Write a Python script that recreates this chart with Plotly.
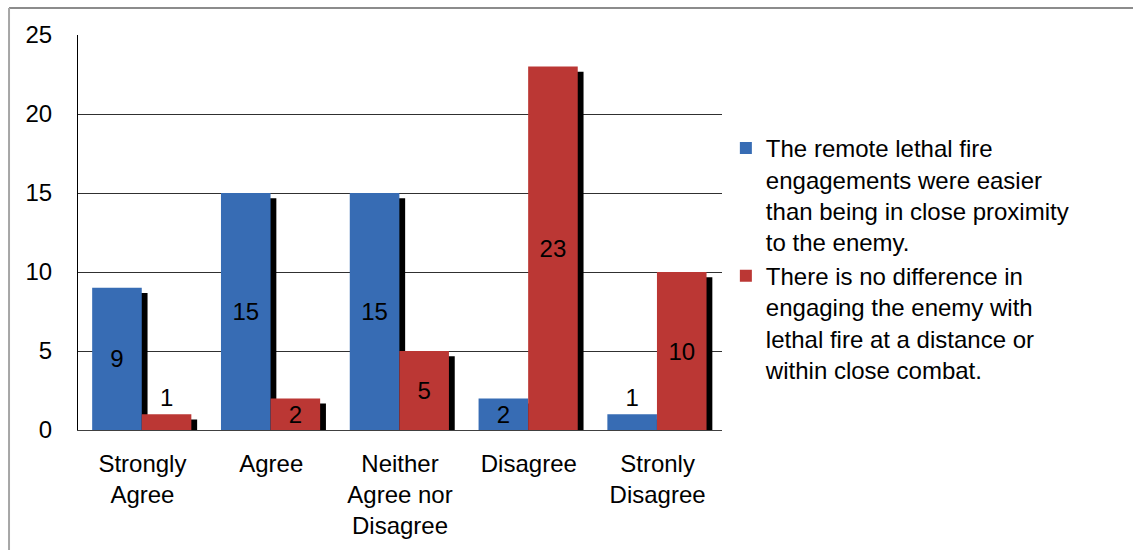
import plotly.graph_objects as go

# Survey responses per answer category
categories = ["Strongly<br>Agree", "Agree", "Neither<br>Agree nor<br>Disagree", "Disagree", "Stronly<br>Disagree"]
remote_easier = [9, 15, 15, 2, 1]
no_difference = [1, 2, 5, 23, 10]

series_names = [
    "The remote lethal fire<br>engagements were easier<br>than being in close proximity<br>to the enemy.",
    "There is no difference in<br>engaging the enemy with<br>lethal fire at a distance or<br>within close combat.",
]
y_ticks = [0, 5, 10, 15, 20, 25]

FONT = "Liberation Sans, Arial, sans-serif"
FS = 24
BLUE = "#376CB4"
RED = "#BB3734"

xs = list(range(len(categories)))
bar_w = 0.385
offsets = [-0.39, -0.005]
shadow_dx = 0.045
shadow_dy = 0.33

fig = go.Figure()

# drop shadows behind each bar
for vals, off in zip([remote_easier, no_difference], offsets):
    fig.add_trace(go.Bar(
        x=xs, y=vals, base=[-shadow_dy] * len(vals),
        offset=off + shadow_dx, width=bar_w,
        marker=dict(color="black", line=dict(width=0)),
        showlegend=False, hoverinfo="skip",
    ))

for vals, off, color, name in zip([remote_easier, no_difference], offsets, [BLUE, RED], series_names):
    fig.add_trace(go.Bar(
        x=xs, y=vals, offset=off, width=bar_w, name=name,
        marker=dict(color=color, line=dict(width=0)),
        text=[str(v) for v in vals],
        textposition=["outside" if v < 2 else "inside" for v in vals],
        insidetextanchor="middle",
        textangle=0,
        constraintext="none",
        textfont=dict(family=FONT, size=FS, color="black"),
        cliponaxis=False,
    ))

fig.update_layout(
    width=1133, height=550,
    barmode="overlay",
    margin=dict(l=78, r=411, t=35, b=120),
    paper_bgcolor="white", plot_bgcolor="white",
    font=dict(family=FONT, size=FS, color="black"),
    showlegend=True,
    legend=dict(
        x=1.006, y=0.77, xanchor="left", yanchor="top",
        valign="top", font=dict(family=FONT, size=FS, color="black"),
        bgcolor="rgba(0,0,0,0)", tracegroupgap=0,
    ),
    xaxis=dict(
        range=[-0.5, 4.5], tickvals=xs, ticktext=categories,
        showgrid=False, zeroline=False, ticks="",
        showline=True, linecolor="#404040", linewidth=1,
        ticklabelstandoff=12,
        tickfont=dict(family=FONT, size=FS, color="black"),
    ),
    yaxis=dict(
        range=[0, 25], tickvals=y_ticks,
        showgrid=True, gridcolor="#303030", gridwidth=1,
        zeroline=False, ticks="",
        showline=True, linecolor="black", linewidth=1,
        ticklabelstandoff=20,
        tickfont=dict(family=FONT, size=FS, color="black"),
    ),
    shapes=[
        # outer chart frame (top and left edges)
        dict(type="line", xref="paper", yref="paper",
             x0=-0.1071, x1=1.7, y0=1.0684, y1=1.0684,
             line=dict(color="#8C8C8C", width=2)),
        dict(type="line", xref="paper", yref="paper",
             x0=-0.1071, x1=-0.1071, y0=1.0684, y1=-0.4,
             line=dict(color="#A6A6A6", width=2)),
    ],
)

fig.write_html("out.html")
